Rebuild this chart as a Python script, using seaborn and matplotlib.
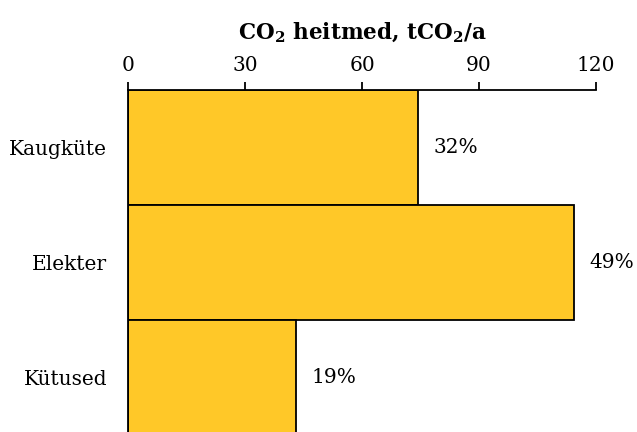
import seaborn as sns
import matplotlib.pyplot as plt
import pandas as pd

# --- data ---
categories = ["Kaugküte", "Elekter", "Kütused"]
emissions = [74.4, 114.4, 43.1]          # tCO2/a
xticks = [0, 30, 60, 90, 120]

df = pd.DataFrame({"source": categories, "co2": emissions})
shares = [f"{round(v / sum(emissions) * 100)}%" for v in emissions]

sns.set_theme(style="white")
plt.rcParams["font.family"] = ["DejaVu Serif"]
plt.rcParams["text.color"] = "black"
plt.rcParams["axes.labelcolor"] = "black"
plt.rcParams["xtick.color"] = "black"
plt.rcParams["ytick.color"] = "black"
plt.rcParams["mathtext.fontset"] = "custom"
plt.rcParams["mathtext.rm"] = "DejaVu Serif:bold"
plt.rcParams["mathtext.default"] = "rm"

fig = plt.figure(figsize=(6.37, 4.32), dpi=100)
ax = fig.add_axes([0.201, -0.008, 0.7347, 0.7997])

sns.barplot(data=df, x="co2", y="source", orient="h", width=1.0,
            color="#FFC828", saturation=1, edgecolor="black", linewidth=1.3, ax=ax)

ax.bar_label(ax.containers[0], labels=shares, padding=11, fontsize=14.5, color="black")

ax.set_xlim(0, 120)
ax.set_ylim(2.5, -0.5)
ax.set_xticks(xticks)
ax.xaxis.tick_top()
ax.xaxis.set_label_position("top")
ax.set_xlabel("CO$_2$ heitmed, tCO$_2$/a", fontsize=15.5, fontweight="bold", labelpad=12)
ax.set_ylabel("")
ax.tick_params(axis="x", length=6, width=1.3, labelsize=14.5, pad=5,
               top=True, bottom=False)
ax.tick_params(axis="y", length=0, labelsize=14.5, pad=15)

for side in ["right", "bottom"]:
    ax.spines[side].set_visible(False)
for side in ["left", "top"]:
    ax.spines[side].set_color("black")
    ax.spines[side].set_linewidth(1.3)

fig.savefig("out.png", dpi=100)
